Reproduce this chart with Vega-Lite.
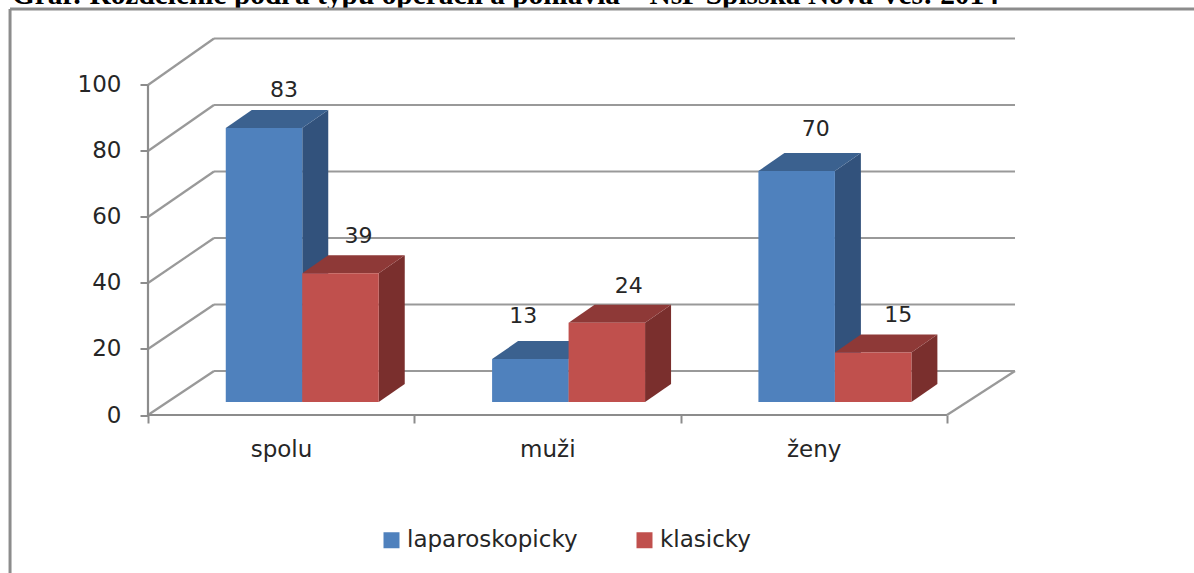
{
"$schema":"https://vega.github.io/schema/vega-lite/v6.json",
"width":867,"height":376.5,
"autosize":"none",
"padding":{"left":148,"top":38.5,"right":179,"bottom":158},
"background":"white",
"config":{"view":{"stroke":null},"font":"DejaVu Sans"},
"resolve":{"axis":{"x":"independent","y":"independent"}},
"datasets":{
"bars":[
{"group":"spolu","series":"laparoskopicky","value":83},
{"group":"spolu","series":"klasicky","value":39},
{"group":"muži","series":"laparoskopicky","value":13},
{"group":"muži","series":"klasicky","value":24},
{"group":"ženy","series":"laparoskopicky","value":70},
{"group":"ženy","series":"klasicky","value":15}],
"ticks":[{"tick":0},{"tick":20},{"tick":40},{"tick":60},{"tick":80},{"tick":100}],
"one":[{"part":"frame"}],
"heading":[{"label":"Graf: Rozdelenie podľa typu operácií a pohlavia – NsP Spišská Nová Ves: 2014"}]
},
"layer":[
{"data":{"name":"heading"},
"mark":{"type":"text","font":"Liberation Serif","fontWeight":"bold","fontSize":29.4,"color":"black","align":"left","baseline":"alphabetic"},
"encoding":{"x":{"datum":-0.511,"type":"quantitative","scale":{"domain":[0,3.2554],"nice":false,"zero":false},"axis":null},"y":{"datum":124.55,"type":"quantitative","scale":{"domain":[0,114.09],"nice":false,"zero":false},"axis":null},"text":{"field":"label","type":"nominal"}}},
{"data":{"name":"ticks"},
"transform":[{"calculate":"0.2478","as":"X"},{"calculate":"3.2554","as":"X2"},{"calculate":"13.33+datum.tick*1.0076","as":"Y"}],
"mark":{"type":"rule","color":"#999999","strokeWidth":2.2},
"encoding":{
"x":{"field":"X","type":"quantitative","scale":{"domain":[0,3.2554],"nice":false,"zero":false},"axis":null},
"x2":{"field":"X2"},
"y":{"field":"Y","type":"quantitative","scale":{"domain":[0,114.09],"nice":false,"zero":false},"axis":null}
}},
{"data":{"name":"ticks"},
"transform":[{"calculate":"0","as":"X"},{"calculate":"0.2478","as":"X2"},{"calculate":"13.33+datum.tick*1.0076","as":"Y2"}],
"mark":{"type":"rule","color":"#999999","strokeWidth":2.2},
"encoding":{
"x":{"field":"X","type":"quantitative","scale":{"domain":[0,3.2554],"nice":false,"zero":false},
"axis":{"title":null,"grid":false,"domain":false,"values":[0,1,2,3],"tickSize":8,"tickWidth":2,"tickColor":"#8c8c8c","labelExpr":"['spolu','muži','ženy',''][datum.value]","labelOffset":133,"labelFontSize":23,"labelColor":"#262626","labelPadding":15,"labelBound":false,"labelFlush":false,"labelOverlap":false,"labelFont":"DejaVu Sans"}},
"x2":{"field":"X2"},
"y":{"field":"tick","type":"quantitative","scale":{"domain":[0,114.09],"nice":false,"zero":false},
"axis":{"title":null,"grid":false,"domain":false,"values":[0,20,40,60,80,100],"tickSize":8,"tickWidth":2,"tickColor":"#8c8c8c","labelFontSize":23,"labelColor":"#262626","labelPadding":19,"labelBound":false,"labelFlush":false,"labelOverlap":false,"labelFont":"DejaVu Sans"}},
"y2":{"field":"Y2"}
}},
{"data":{"name":"one"},"mark":{"type":"rule","color":"#8c8c8c","strokeWidth":2.2},
"encoding":{"x":{"datum":0,"type":"quantitative","scale":{"domain":[0,3.2554],"nice":false,"zero":false},"axis":null},"x2":{"datum":3},"y":{"datum":0,"type":"quantitative","scale":{"domain":[0,114.09],"nice":false,"zero":false},"axis":null}}},
{"data":{"name":"one"},"mark":{"type":"rule","color":"#8c8c8c","strokeWidth":2.2},
"encoding":{"x":{"datum":0,"type":"quantitative","scale":{"domain":[0,3.2554],"nice":false,"zero":false},"axis":null},"y":{"datum":0,"type":"quantitative","scale":{"domain":[0,114.09],"nice":false,"zero":false},"axis":null},"y2":{"datum":100}}},
{"data":{"name":"one"},"mark":{"type":"rule","color":"#999999","strokeWidth":2.2},
"encoding":{"x":{"datum":3,"type":"quantitative","scale":{"domain":[0,3.2554],"nice":false,"zero":false},"axis":null},"x2":{"datum":3.2554},"y":{"datum":0,"type":"quantitative","scale":{"domain":[0,114.09],"nice":false,"zero":false},"axis":null},"y2":{"datum":13.33}}},
{"data":{"name":"one"},"mark":{"type":"rule","color":"#8c8c8c","strokeWidth":3},
"encoding":{"x":{"datum":-0.518,"type":"quantitative","scale":{"domain":[0,3.2554],"nice":false,"zero":false},"axis":null},"x2":{"datum":3.93},"y":{"datum":123.03,"type":"quantitative","scale":{"domain":[0,114.09],"nice":false,"zero":false},"axis":null}}},
{"data":{"name":"one"},"mark":{"type":"rule","color":"#8c8c8c","strokeWidth":3},
"encoding":{"x":{"datum":-0.518,"type":"quantitative","scale":{"domain":[0,3.2554],"nice":false,"zero":false},"axis":null},"y":{"datum":123.03,"type":"quantitative","scale":{"domain":[0,114.09],"nice":false,"zero":false},"axis":null},"y2":{"datum":-48}}},
{"data":{"name":"bars"},
"transform":[
{"calculate":"indexof(['spolu','muži','ženy'],datum.group)+0.292+(datum.series==='klasicky'?0.2872:0)+0.2872","as":"x1"},
{"calculate":"[0,1]","as":"k"},{"flatten":["k"]},
{"calculate":"datum.x1+datum.k*0.0976","as":"X"},
{"calculate":"3.94+datum.k*5.45","as":"Y"},
{"calculate":"3.94+datum.value+datum.k*5.45","as":"Y2"}],
"mark":{"type":"area"},
"encoding":{
"x":{"field":"X","type":"quantitative","scale":{"domain":[0,3.2554],"nice":false,"zero":false},"axis":null},
"y":{"field":"Y","type":"quantitative","scale":{"domain":[0,114.09],"nice":false,"zero":false},"axis":null},
"y2":{"field":"Y2"},
"detail":[{"field":"group"},{"field":"series"}],
"color":{"condition":{"test":"datum.series==='klasicky'","value":"#7A2F2D"},"value":"#32527C"}
}},
{"data":{"name":"bars"},
"transform":[
{"calculate":"indexof(['spolu','muži','ženy'],datum.group)+0.292+(datum.series==='klasicky'?0.2872:0)","as":"x0"},
{"calculate":"[0,1,2,3]","as":"k"},{"flatten":["k"]},
{"calculate":"datum.x0+[0,0.0976,0.2872,0.3848][datum.k]","as":"X"},
{"calculate":"3.94+datum.value+[0,0,0,5.45][datum.k]","as":"Y"},
{"calculate":"3.94+datum.value+[0,5.45,5.45,5.45][datum.k]","as":"Y2"}],
"mark":{"type":"area"},
"encoding":{
"x":{"field":"X","type":"quantitative","scale":{"domain":[0,3.2554],"nice":false,"zero":false},"axis":null},
"y":{"field":"Y","type":"quantitative","scale":{"domain":[0,114.09],"nice":false,"zero":false},"axis":null},
"y2":{"field":"Y2"},
"detail":[{"field":"group"},{"field":"series"}],
"color":{"condition":{"test":"datum.series==='klasicky'","value":"#8E3937"},"value":"#3B618F"}
}},
{"data":{"name":"bars"},
"transform":[
{"calculate":"indexof(['spolu','muži','ženy'],datum.group)+0.292+(datum.series==='klasicky'?0.2872:0)","as":"X"},
{"calculate":"datum.X+0.2872","as":"X2"},
{"calculate":"3.94","as":"Y"},
{"calculate":"3.94+datum.value","as":"Y2"}],
"mark":{"type":"rect"},
"encoding":{
"x":{"field":"X","type":"quantitative","scale":{"domain":[0,3.2554],"nice":false,"zero":false},"axis":null},
"x2":{"field":"X2"},
"y":{"field":"Y","type":"quantitative","scale":{"domain":[0,114.09],"nice":false,"zero":false},"axis":null},
"y2":{"field":"Y2"},
"color":{"field":"series","type":"nominal","sort":null,"scale":{"domain":["laparoskopicky","klasicky"],"range":["#4F81BD","#C0504D"]},
"legend":{"title":null,"orient":"none","legendX":232,"legendY":490,"direction":"horizontal","columns":2,"symbolType":"square","symbolSize":256,"symbolStrokeWidth":0,"labelFontSize":23,"labelColor":"#262626","labelOffset":4,"columnPadding":55,"labelLimit":300,"labelFont":"DejaVu Sans"}}
}},
{"data":{"name":"bars"},
"transform":[
{"calculate":"indexof(['spolu','muži','ženy'],datum.group)+0.292+(datum.series==='klasicky'?0.2872:0)+0.1436","as":"xc"},
{"calculate":"datum.xc+({'83':20,'39':18,'13':-7,'24':22,'70':19,'15':25}[datum.value])/266.33","as":"X"},
{"calculate":"3.94+datum.value+({'83':38,'39':37,'13':43,'24':37,'70':42,'15':37}[datum.value])/3.3","as":"Y"}],
"mark":{"type":"text","fontSize":22,"color":"#262626","font":"DejaVu Sans","baseline":"middle","align":"center"},
"encoding":{
"x":{"field":"X","type":"quantitative","scale":{"domain":[0,3.2554],"nice":false,"zero":false},"axis":null},
"y":{"field":"Y","type":"quantitative","scale":{"domain":[0,114.09],"nice":false,"zero":false},"axis":null},
"text":{"field":"value","type":"quantitative"}
}}
]
}
